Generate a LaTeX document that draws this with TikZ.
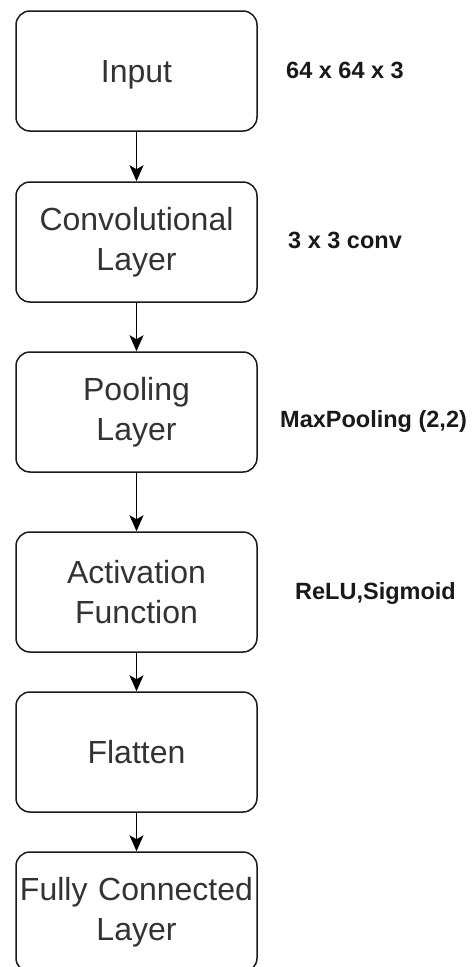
\documentclass[tikz,border=0pt]{standalone}
\usepackage{fontspec}
\setmainfont{Liberation Sans}
\usetikzlibrary{arrows.meta}
\definecolor{boxtext}{HTML}{333333}
\definecolor{boxline}{HTML}{1A1A1A}
\tikzset{
  layerbox/.style={draw=boxline, line width=1.5pt, rounded corners=14pt, fill=white,
    minimum width=241pt, minimum height=120pt, inner sep=0pt, text width=239pt,
    align=center, text=boxtext,
    font=\fontsize{32}{39.5}\selectfont},
  oneline/.style={text depth=0pt},
  sidelabel/.style={anchor=base west, inner sep=0pt, text=black!90,
    font=\bfseries\fontsize{23.5}{28}\selectfont},
  flow/.style={draw=black, line width=1.3pt, -{Stealth[length=16pt, width=14pt, inset=4pt]}}
}
\begin{document}
\begin{tikzpicture}[x=1pt, y=-1pt]
  \useasboundingbox (0,0) rectangle (475,967);
  \clip (0,0) rectangle (475,967);
  \fill[white] (0,0) rectangle (475,967);

  \node[layerbox, oneline] (input)   at (136.5,71)  {Input};
  \node[layerbox] (conv)    at (136.5,242) {Convolutional\\Layer};
  \node[layerbox] (pool)    at (136.5,412) {Pooling\\Layer};
  \node[layerbox] (act)     at (136.5,592) {Activation\\Function};
  \node[layerbox, oneline] (flatten) at (136.5,752) {Flatten};
  \node[layerbox] (fc)      at (136.5,912) {Fully Connected\\Layer};

  \draw[flow] (input) -- (conv);
  \draw[flow] (conv) -- (pool);
  \draw[flow] (pool) -- (act);
  \draw[flow] (act) -- (flatten);
  \draw[flow] (flatten) -- (fc);

  \node[sidelabel] (l1) at (286,78.3)  {64 x 64 x 3};
  \node[sidelabel] (l2) at (288,248.3) {3 x 3 conv};
  \node[sidelabel] (l3) at (280,427.3) {MaxPooling (2,2)};
  \node[sidelabel] (l4) at (295,599)   {ReLU,Sigmoid};
\end{tikzpicture}
\end{document}
